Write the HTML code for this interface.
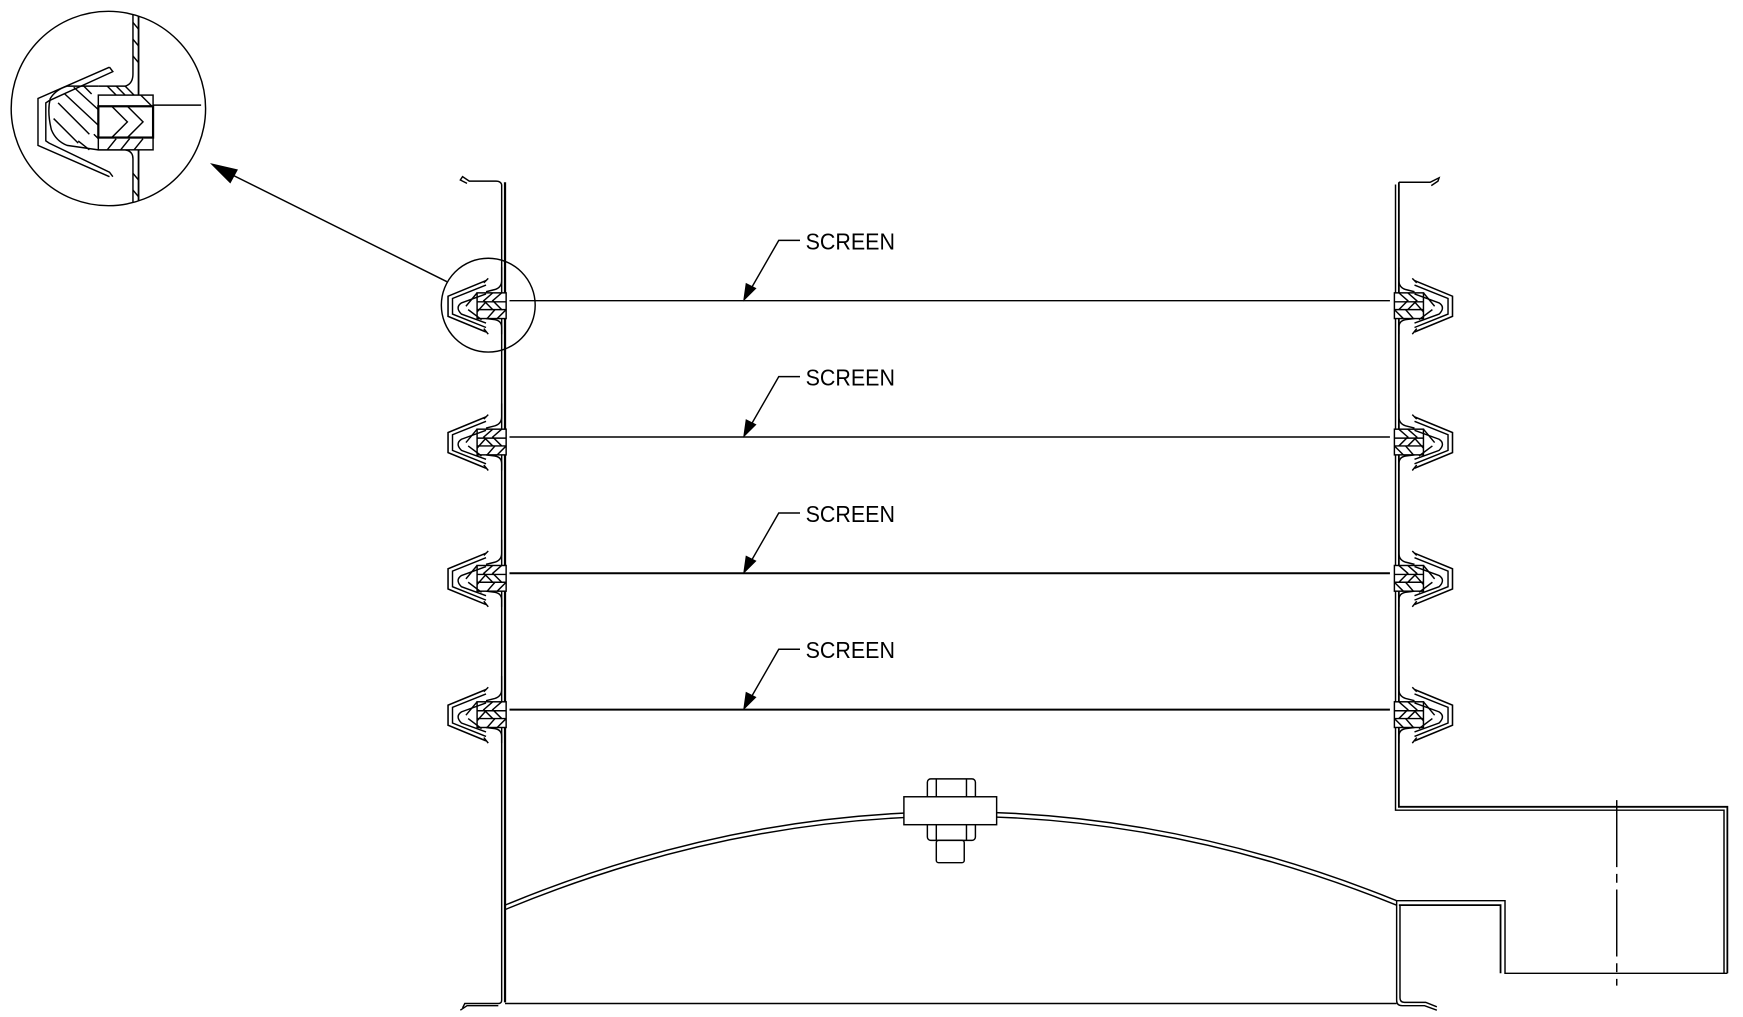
<!DOCTYPE html>
<html><head><meta charset="utf-8"><style>html,body{margin:0;padding:0;background:#fff}svg{display:block}</style></head>
<body>
<svg width="1743" height="1017" viewBox="0 0 1560 910" xmlns="http://www.w3.org/2000/svg" fill="none" stroke="#000" stroke-width="1.3">
<defs>
<g id="clip">
  <rect x="-4" y="-7" width="26" height="23" fill="#fff"/>
  <line x1="-4" y1="1" x2="22" y2="1"/>
  <line x1="-4" y1="8" x2="22" y2="8"/>
  <path d="M0,-7 L8,0 L0,8 M8,-7 L16,0 L8,8 M-4,8 L4,16 M6,8 L13,16 M14,1 L22,10"/>
  <path d="M0,-30 L0,-18 Q0,-12 6,-10 L14,-8" />
  <path d="M0,30 L0,24 Q0,18 6,17 L14,16" />
  <path d="M14,-18 L48,-4 L48,14 L14,28" stroke-width="1.4"/>
  <path d="M14,-14 L44,-2 L44,12 L14,24"/>
  <path d="M12,-20 L16,-16 M12,30 L16,25"/>
  <path d="M14,-6 L36,2 Q42,6 36,12 L14,20"/>
  <path d="M22,-7 L32,5 M18,17 L30,8"/>
</g>
<clipPath id="cc"><circle cx="97" cy="97" r="87"/></clipPath>
</defs>

<!-- detail circle -->
<circle cx="97" cy="97" r="87"/>
<g clip-path="url(#cc)" stroke-width="1.3">
  <line x1="124" y1="0" x2="124" y2="200" stroke-width="1.6"/>
  <path d="M119,0 L119,66 Q119,75 112,77 L88,77"/>
  <path d="M119,200 L119,142 Q119,135 112,134 L88,134"/>
  <path d="M119,20 L124,26 M119,35 L124,41 M119,50 L124,56 M119,155 L124,161 M119,170 L124,176 M119,185 L124,191"/>
  <!-- V clip outer -->
  <path d="M98,60 L34,88 L34,130 L98,158"/>
  <path d="M98,60 L101,64 L44,90 L41,92 L41,126 L44,128 L98,154 L101,158"/>
  <!-- bulb / body -->
  <path d="M88,77 L60,77 Q50,80 45,88 Q42,100 46,116 Q50,126 60,130 L88,134"/>
  <path d="M52,92 L80,120 M58,84 L88,112 M66,78 L88,98 M48,106 L70,128 M75,77 L82,84 M70,126 L80,134 M84,120 L88,124"/>
  <!-- block -->
  <rect x="88" y="85" width="49" height="49" fill="#fff"/>
  <rect x="88" y="95" width="49" height="28" stroke-width="2"/>
  <path d="M96,77 L104,85 M104,77 L112,85 M112,77 L120,85 M96,134 L104,124 M108,134 L116,124 M120,134 L128,124"/>
  <path d="M100,95 L114,109 L100,123 M114,95 L128,109 L114,123 M126,85 L136,95"/>
  <line x1="137" y1="94" x2="180" y2="94"/>
</g>
<!-- arrow to detail -->
<line x1="400" y1="252" x2="195" y2="150"/>
<path d="M190,147 L212,152 L206,163 Z" fill="#000"/>
<circle cx="437" cy="273" r="42"/>

<!-- left wall -->
<path d="M449,165 L449,895 Q449,898 446,898 L416,898 L414,902" stroke-width="1.3"/>
<path d="M452,163 L452,897" stroke-width="2"/>
<path d="M449,165 Q448,162 444,162 L420,162 L414,158 L412,161 L418,164"/>
<path d="M446,900 L418,900 L412,904"/>
<!-- right wall -->
<path d="M1249,165 L1249,725 L1543,725 L1543,871" stroke-width="1.3"/>
<path d="M1252,163 L1252,722 L1546,722 L1546,871" stroke-width="1.6"/>
<path d="M1252,163 L1280,163 L1288,159 L1287,162 L1281,166"/>
<path d="M1250,806 L1347,806 L1347,871 L1546,871"/>
<path d="M1252,810 L1343,810 L1343,871" stroke-width="1.6"/>
<path d="M1250,806 L1250,895 Q1250,900 1255,900 L1275,900 L1286,904"/>
<path d="M1253,810 L1253,893 Q1253,897 1257,897 L1276,897 L1286,901"/>
<line x1="1447" y1="716" x2="1447" y2="882" stroke-dasharray="60,6,8,6"/>
<line x1="452" y1="898" x2="1250" y2="898"/>

<!-- arc -->
<path d="M452,810 Q851,645 1250,806"/>
<path d="M452,814 Q851,649 1250,810"/>

<!-- bolt -->
<rect x="830" y="697" width="43" height="55" rx="3" fill="#fff"/>
<line x1="838" y1="697" x2="838" y2="752"/>
<line x1="865" y1="697" x2="865" y2="752"/>
<rect x="838" y="752" width="25" height="20" rx="2" fill="#fff"/>
<rect x="809" y="713" width="83" height="25" fill="#fff"/>

<!-- screens -->
<g stroke-width="1.3">
<line x1="456" y1="269" x2="1244" y2="269"/>
<line x1="456" y1="391" x2="1244" y2="391"/>
<line x1="456" y1="513" x2="1244" y2="513" stroke-width="1.8"/>
<line x1="456" y1="635" x2="1244" y2="635" stroke-width="1.8"/>
</g>

<use href="#clip" transform="translate(1252,269)"/>
<use href="#clip" transform="translate(1252,391)"/>
<use href="#clip" transform="translate(1252,513)"/>
<use href="#clip" transform="translate(1252,635)"/>
<use href="#clip" transform="translate(449,269) scale(-1,1)"/>
<use href="#clip" transform="translate(449,391) scale(-1,1)"/>
<use href="#clip" transform="translate(449,513) scale(-1,1)"/>
<use href="#clip" transform="translate(449,635) scale(-1,1)"/>

<g>
<path d="M716,215 L697,215 L670,262"/><path d="M666,268 L668,254 L676,258 Z" fill="#000"/>
<path d="M716,337 L697,337 L670,384"/><path d="M666,390 L668,376 L676,380 Z" fill="#000"/>
<path d="M716,459 L697,459 L670,506"/><path d="M666,512 L668,498 L676,502 Z" fill="#000"/>
<path d="M716,581 L697,581 L670,628"/><path d="M666,634 L668,620 L676,624 Z" fill="#000"/>
</g>
<g font-family="Liberation Sans, sans-serif" font-size="21" fill="#000" stroke="none">
<text x="721" y="223" textLength="80" lengthAdjust="spacingAndGlyphs">SCREEN</text>
<text x="721" y="345" textLength="80" lengthAdjust="spacingAndGlyphs">SCREEN</text>
<text x="721" y="467" textLength="80" lengthAdjust="spacingAndGlyphs">SCREEN</text>
<text x="721" y="589" textLength="80" lengthAdjust="spacingAndGlyphs">SCREEN</text>
</g>
</svg>
</body></html>
